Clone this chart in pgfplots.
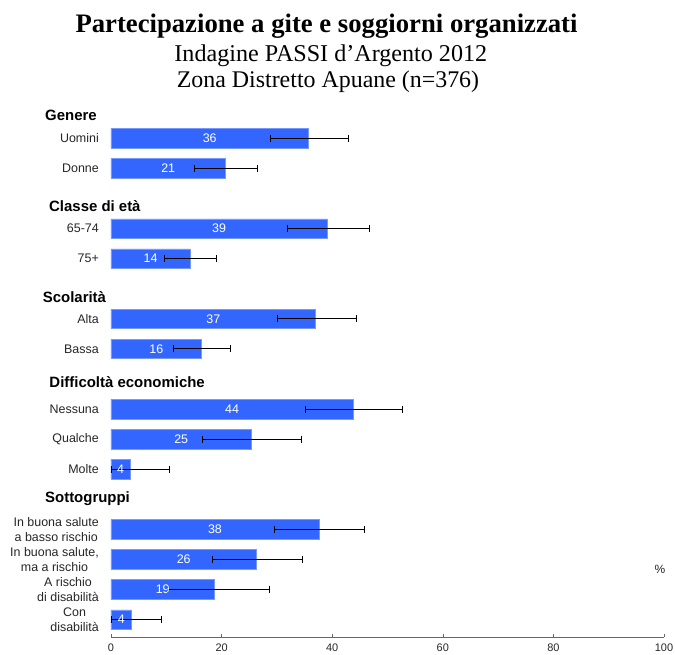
\documentclass[border=0pt]{standalone}
\usepackage{fontspec}
\setmainfont{Liberation Sans}
\newfontfamily\timesfont{Liberation Serif}
\usepackage{pgfplots}
\pgfplotsset{compat=1.18}
\usepackage{pgfplotstable}
\definecolor{barblue}{HTML}{3366FF}
\definecolor{baredge}{HTML}{7799FF}

% k = row position (negative, top to bottom), v = value, em/ep = error minus/plus, lab = printed label
\pgfplotstableread{
k v em ep lab
0 35.7 6.95 7.3 36
-1 20.7 5.6 5.8 21
-3 39.1 7.3 7.6 39
-4 14.3 4.7 4.8 14
-6 37.0 6.9 7.4 37
-7 16.4 5.2 5.2 16
-9 43.8 8.7 8.8 44
-10 25.4 8.9 9.0 25
-11 3.5 3.5 7.0 4
-13 37.6 8.1 8.3 38
-14 26.3 8.0 8.3 26
-15 18.7 8.6 10.0 19
-16 3.7 3.7 5.4 4
}\data

\begin{document}
\begin{tikzpicture}
\path[use as bounding box] (-111bp,-17.7bp) rectangle (564bp,637.3bp);
\begin{axis}[
  at={(0,0)}, anchor=south west,
  scale only axis, width=553bp, height=538bp,
  xmin=0, xmax=100, ymin=-16.59, ymax=1.3,
  clip=false,
  axis x line*=bottom, axis y line*=left,
  y axis line style={draw=none},
  x axis line style={draw=gray!80!black, line width=0.6pt},
  xtick={0,20,...,100},
  tick align=inside,
  xtick style={draw=gray!80!black, line width=0.6pt},
  major tick length=3.5bp,
  ytick style={draw=none},
  ytick={0,-1,-3,-4,-6,-7,-9,-10,-11,-13,-14,-15,-16},
  yticklabels={Uomini,Donne,65-74,75+,Alta,Bassa,Nessuna,Qualche,Molte,
    {In buona salute\\a basso rischio},{In buona salute,\\ma a rischio},
    {A rischio\\di disabilità},{Con\\disabilità}},
  yticklabel style={inner sep=0pt, xshift=-12bp, align=center,
    font=\fontsize{12.5}{14.8}\selectfont, text=black!85},
  xticklabel style={inner sep=0pt, yshift=-6bp,
    font=\fontsize{11}{12}\selectfont, text=black!85},
  /pgf/number format/assume math mode=true,
]
\addplot[xbar, bar width=19.6bp, fill=barblue, draw=baredge, line width=0.5pt,
  error bars/.cd, x dir=both, x explicit,
  error bar style={black, line width=0.9pt},
  error mark options={rotate=90, mark size=3.5bp, black, line width=0.7pt}]
  table[x=v, y=k, x error plus=ep, x error minus=em] {\data};
\addplot[draw=none, mark=none, nodes near coords, point meta=explicit symbolic,
  every node near coord/.style={anchor=center, text=white,
    font=\fontsize{12.5}{14}\selectfont}]
  table[x expr=\thisrow{v}/2, y=k, meta=lab] {\data};
\end{axis}
\node[anchor=base, font=\timesfont\bfseries\fontsize{26.8}{31}\selectfont]
  at (215.5bp,604.3bp) {Partecipazione a gite e soggiorni organizzati};
\node[anchor=base, font=\timesfont\fontsize{24.2}{28}\selectfont]
  at (219.8bp,575.6bp) {Indagine PASSI d’Argento 2012};
\node[anchor=base, font=\timesfont\fontsize{24}{28}\selectfont]
  at (217bp,549.3bp) {Zona Distretto Apuane (n=376)};
\begin{scope}[every node/.style={anchor=base west, inner sep=0pt,
    font=\bfseries\fontsize{15}{18}\selectfont}]
\node at (-66bp,516.6bp) {Genere};
\node at (-62bp,425.3bp) {Classe di età};
\node at (-68.3bp,335bp) {Scolarità};
\node at (-61.7bp,250bp) {Difficoltà economiche};
\node at (-66bp,134.6bp) {Sottogruppi};
\end{scope}
\node[font=\fontsize{12}{14}\selectfont, text=black!85] at (549bp,67.6bp) {\%};
\end{tikzpicture}
\end{document}
